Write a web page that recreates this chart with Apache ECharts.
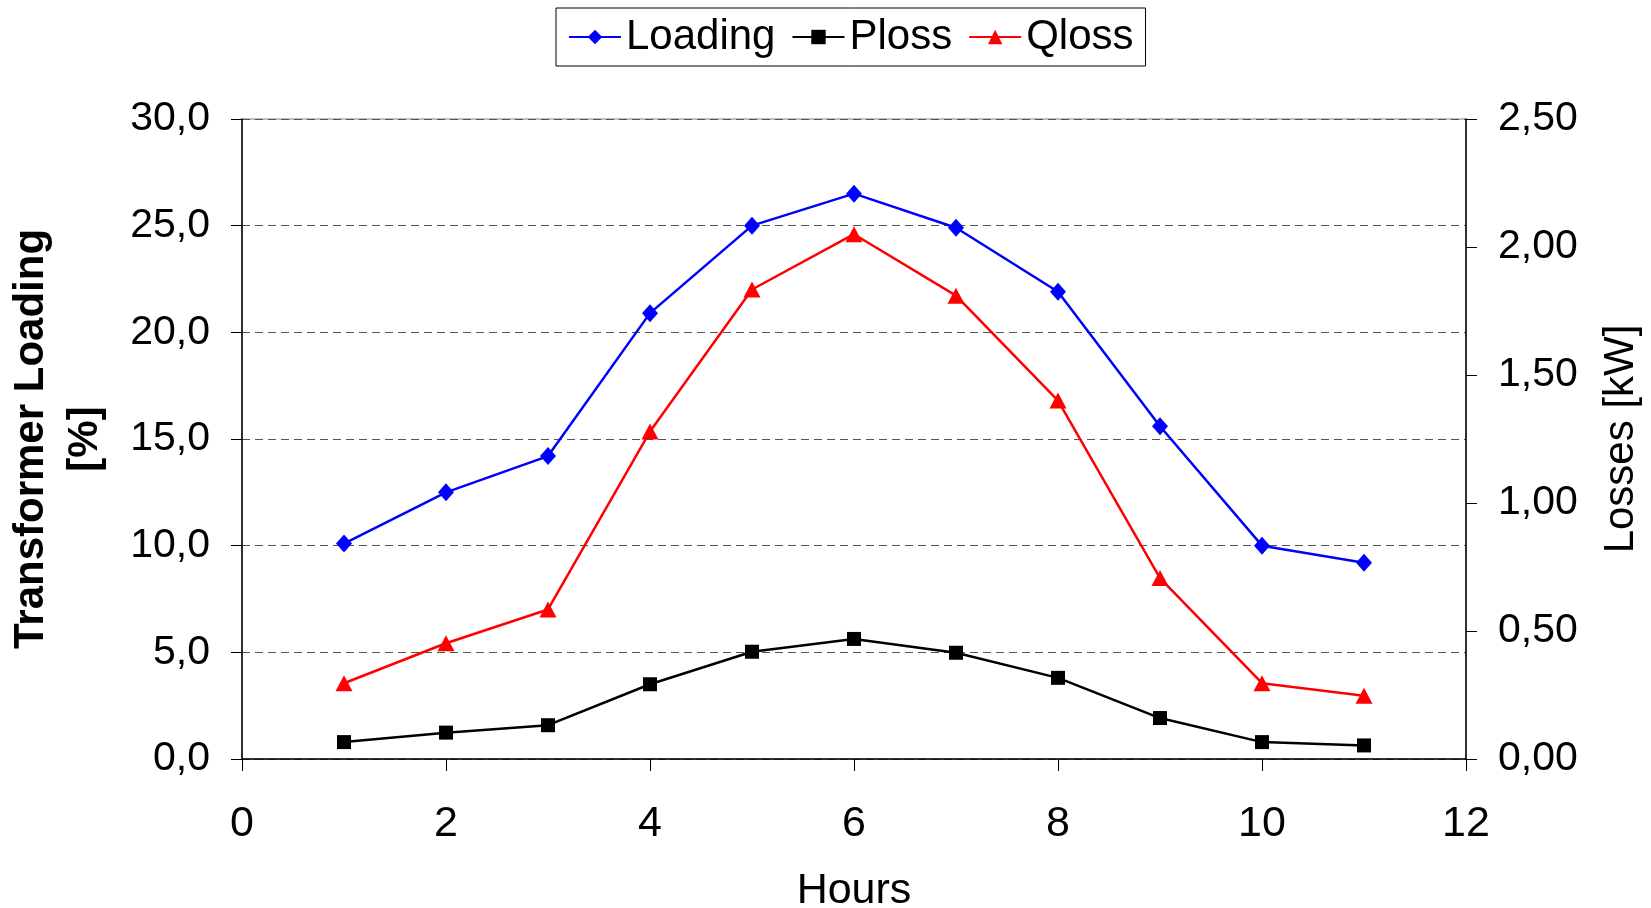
<!DOCTYPE html>
<html><head><meta charset="utf-8">
<script src="https://cdn.jsdelivr.net/npm/echarts@6/dist/echarts.min.js"></script>
<style>html,body{margin:0;padding:0;background:#fff}#c{width:1651px;height:908px}</style>
</head><body><div id="c"></div>
<script>
const hours = [1,2,3,4,5,6,7,8,9,10,11];
const loading = [10.1,12.5,14.2,20.9,25.0,26.5,24.9,21.9,15.6,10.0,9.2];
const ploss = [0.066,0.103,0.132,0.292,0.419,0.469,0.415,0.317,0.160,0.066,0.053];
const qloss = [0.296,0.452,0.584,1.279,1.834,2.050,1.810,1.400,0.707,0.296,0.247];
const xTicks = [0,2,4,6,8,10,12];
const leftTicks = [0,5,10,15,20,25,30];
const rightTicks = [0,0.5,1,1.5,2,2.5];

const pair = (xs, ys) => xs.map((x,i)=>[x, ys[i]]);
const F = 'Liberation Sans, Arial, sans-serif';
const chart = echarts.init(document.getElementById('c'));
chart.setOption({
  animation:false,
  backgroundColor:'#fff',
  legend:{
    top:8, left:556,
    data:['Loading','Ploss','Qloss'],
    borderColor:'#000', borderWidth:1, padding:[8,12,8,12],
    itemWidth:52, itemHeight:18, itemGap:16,
    textStyle:{fontFamily:F, fontSize:42, color:'#000'}
  },
  grid:{left:242,right:185,top:119,bottom:149,outerBoundsMode:'none',containLabel:false,
    show:true,borderColor:'#808080',borderWidth:1},
  xAxis:{
    type:'value', min:0, max:12, interval:2,
    name:'Hours', nameLocation:'middle', nameGap:111,
    nameTextStyle:{fontFamily:F, fontSize:43, color:'#000'},
    axisLine:{show:true,lineStyle:{color:'#000',width:1.5}},
    axisTick:{show:true,length:12,lineStyle:{color:'#000'}},
    axisLabel:{fontFamily:F, fontSize:43, color:'#000', margin:44,
      formatter:v=>xTicks.includes(v)?String(v):''},
    splitLine:{show:false}
  },
  yAxis:[{
    type:'value', min:0, max:30, interval:5, position:'left',
    name:'Transformer Loading\n[%]', nameLocation:'middle', nameRotate:90, nameGap:130,
    nameTextStyle:{fontFamily:F, fontSize:42, fontWeight:'bold', color:'#000', lineHeight:54},
    axisLine:{show:true,lineStyle:{color:'#000',width:1.5}},
    axisTick:{show:true,length:11,lineStyle:{color:'#000'}},
    axisLabel:{fontFamily:F, fontSize:41, color:'#000', margin:32,
      formatter:v=>leftTicks.includes(v)?v.toFixed(1).replace('.',','):''},
    splitLine:{show:true,lineStyle:{color:'#555',type:[8,5],width:1}}
  },{
    type:'value', min:0, max:2.5, interval:0.5, position:'right',
    name:'Losses [kW]', nameLocation:'middle', nameRotate:90, nameGap:134,
    nameTextStyle:{fontFamily:F, fontSize:42, color:'#000'},
    axisLine:{show:true,lineStyle:{color:'#000',width:1.5}},
    axisTick:{show:true,length:11,lineStyle:{color:'#000'}},
    axisLabel:{fontFamily:F, fontSize:41, color:'#000', margin:32,
      formatter:v=>rightTicks.some(t=>Math.abs(t-v)<1e-9)?v.toFixed(2).replace('.',','):''},
    splitLine:{show:false}
  }],
  series:[
    {name:'Loading', type:'line', yAxisIndex:0, data:pair(hours,loading),
      symbol:'diamond', symbolSize:[16,18], lineStyle:{color:'#0000ff',width:2.5},
      itemStyle:{color:'#0000ff'}},
    {name:'Ploss', type:'line', yAxisIndex:1, data:pair(hours,ploss),
      symbol:'rect', symbolSize:14, lineStyle:{color:'#000',width:2.5},
      itemStyle:{color:'#000'}},
    {name:'Qloss', type:'line', yAxisIndex:1, data:pair(hours,qloss),
      symbol:'triangle', symbolSize:[17,16], lineStyle:{color:'#ff0000',width:2.5},
      itemStyle:{color:'#ff0000'}}
  ]
});
</script></body></html>
